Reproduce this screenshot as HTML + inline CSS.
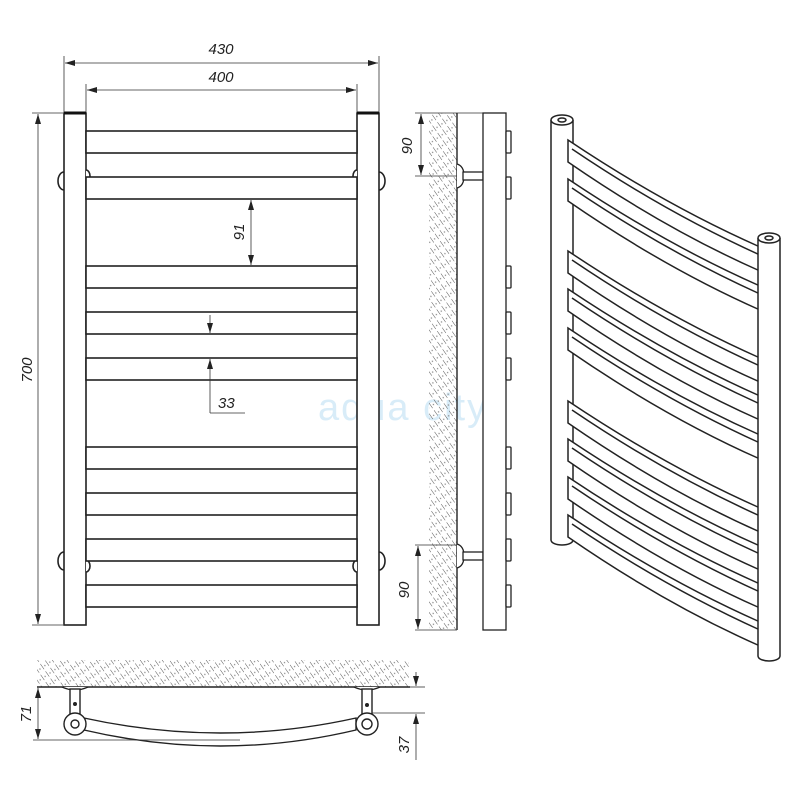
<!DOCTYPE html>
<html><head><meta charset="utf-8"><style>
html,body{margin:0;padding:0;background:#fff;width:800px;height:800px;overflow:hidden}
svg text{font-family:"Liberation Sans",sans-serif;font-style:italic;fill:#222}
</style></head><body>
<svg width="800" height="800" viewBox="0 0 800 800" xmlns="http://www.w3.org/2000/svg">
<defs>
<pattern id="h" width="6" height="9" patternUnits="userSpaceOnUse" patternTransform="rotate(-35)">
<line x1="0" y1="0" x2="0" y2="6.5" stroke="#555" stroke-width="1"/>
<circle cx="3" cy="4" r="0.7" fill="#888"/>
</pattern>
<marker id="a" viewBox="0 0 10 6" refX="10" refY="3" markerWidth="10" markerHeight="6" orient="auto-start-reverse" markerUnits="userSpaceOnUse"><path d="M0,0 L10,3 L0,6z" fill="#222"/></marker>
</defs>

<!-- watermark -->
<text x="318" y="420" style="font-style:normal;font-size:38px;fill:#d8ecf8;letter-spacing:2px">aqua city</text>

<!-- FRONT VIEW -->
<g stroke="#222" stroke-width="1.6" fill="#fff">
<path d="M64,172 a6,9 0 0 0 0,18" /><path d="M64,552 a6,9 0 0 0 0,18"/>
<path d="M379,172 a6,9 0 0 1 0,18"/><path d="M379,552 a6,9 0 0 1 0,18"/>
<rect x="64" y="113" width="22" height="512"/>
<rect x="357" y="113" width="22" height="512"/>
<path d="M86,170 a4,6 0 0 1 0,12"/><path d="M86,560 a4,6 0 0 1 0,12"/>
<path d="M357,170 a4,6 0 0 0 0,12"/><path d="M357,560 a4,6 0 0 0 0,12"/>
<rect x="86" y="131" width="271" height="22"/>
<rect x="86" y="177" width="271" height="22"/>
<rect x="86" y="266" width="271" height="22"/>
<rect x="86" y="312" width="271" height="22"/>
<rect x="86" y="358" width="271" height="22"/>
<rect x="86" y="447" width="271" height="22"/>
<rect x="86" y="493" width="271" height="22"/>
<rect x="86" y="539" width="271" height="22"/>
<rect x="86" y="585" width="271" height="22"/>
</g>
<line x1="64" y1="113" x2="86" y2="113" stroke="#111" stroke-width="3"/>
<line x1="357" y1="113" x2="379" y2="113" stroke="#111" stroke-width="3"/>
<g stroke="#333" stroke-width="0.8" fill="none">
<line x1="64" y1="56" x2="64" y2="112"/><line x1="379" y1="56" x2="379" y2="112"/>
<line x1="86" y1="84" x2="86" y2="112"/><line x1="357" y1="84" x2="357" y2="112"/>
<line x1="65" y1="63" x2="378" y2="63" marker-start="url(#a)" marker-end="url(#a)"/>
<line x1="87" y1="90" x2="356" y2="90" marker-start="url(#a)" marker-end="url(#a)"/>
<line x1="32" y1="113" x2="63" y2="113"/><line x1="32" y1="625" x2="63" y2="625"/>
<line x1="38" y1="114" x2="38" y2="624" marker-start="url(#a)" marker-end="url(#a)"/>
<line x1="251" y1="200" x2="251" y2="265" marker-start="url(#a)" marker-end="url(#a)"/>
<line x1="210" y1="315" x2="210" y2="333" marker-end="url(#a)"/>
<line x1="210" y1="413" x2="210" y2="359" marker-end="url(#a)"/>
<line x1="210" y1="413" x2="245" y2="413"/>
</g>
<text x="221" y="54" font-size="15" text-anchor="middle">430</text>
<text x="221" y="82" font-size="15" text-anchor="middle">400</text>
<text transform="translate(32,370) rotate(-90)" font-size="15" text-anchor="middle">700</text>
<text transform="translate(244,232) rotate(-90)" font-size="15" text-anchor="middle">91</text>
<text x="218" y="408" font-size="15">33</text>

<!-- SIDE VIEW -->
<rect x="429" y="113" width="28" height="517" fill="url(#h)"/>
<line x1="457" y1="113" x2="457" y2="630" stroke="#222" stroke-width="1.4"/>
<g stroke="#222" stroke-width="1.3" fill="#fff">
<path d="M457,164 q7,2 7,12 q0,10 -7,12"/>
<path d="M457,544 q7,2 7,12 q0,10 -7,12"/>
<rect x="463" y="172" width="20" height="8"/>
<rect x="463" y="552" width="20" height="8"/>
<rect x="483" y="113" width="23" height="517"/>
<rect x="506" y="131" width="5" height="22" rx="1"/>
<rect x="506" y="177" width="5" height="22" rx="1"/>
<rect x="506" y="266" width="5" height="22" rx="1"/>
<rect x="506" y="312" width="5" height="22" rx="1"/>
<rect x="506" y="358" width="5" height="22" rx="1"/>
<rect x="506" y="447" width="5" height="22" rx="1"/>
<rect x="506" y="493" width="5" height="22" rx="1"/>
<rect x="506" y="539" width="5" height="22" rx="1"/>
<rect x="506" y="585" width="5" height="22" rx="1"/>
</g>
<g stroke="#333" stroke-width="0.8">
<line x1="415" y1="113" x2="483" y2="113"/><line x1="415" y1="176" x2="457" y2="176"/>
<line x1="421" y1="114" x2="421" y2="175" marker-start="url(#a)" marker-end="url(#a)"/>
<line x1="415" y1="545" x2="457" y2="545"/><line x1="415" y1="630" x2="457" y2="630"/>
<line x1="418" y1="546" x2="418" y2="629" marker-start="url(#a)" marker-end="url(#a)"/>
</g>
<text transform="translate(412,146) rotate(-90)" font-size="15" text-anchor="middle">90</text>
<text transform="translate(409,590) rotate(-90)" font-size="15" text-anchor="middle">90</text>

<!-- BOTTOM VIEW -->
<rect x="37" y="660" width="372" height="27" fill="url(#h)"/>
<line x1="37" y1="687" x2="410" y2="687" stroke="#222" stroke-width="1.4"/>
<g stroke="#222" stroke-width="1.4" fill="#fff">
<path d="M62,687 q13,6 26,0"/><path d="M354,687 q13,6 26,0"/>
<rect x="70" y="689" width="10" height="25"/><rect x="362" y="689" width="10" height="25"/>
<path d="M84,718 Q221,748 356,718 L356,730 Q221,762 84,730 Z"/>
<circle cx="75" cy="724" r="11"/><circle cx="367" cy="724" r="11"/>
<circle cx="75" cy="724" r="4"/><circle cx="367" cy="724" r="5"/>
</g>
<circle cx="75" cy="704" r="2" fill="#222"/><circle cx="367" cy="705" r="2" fill="#222"/>
<g stroke="#333" stroke-width="0.8">
<line x1="33" y1="740" x2="240" y2="740"/>
<line x1="38" y1="688" x2="38" y2="739" marker-start="url(#a)" marker-end="url(#a)"/>
<line x1="372" y1="713" x2="425" y2="713"/><line x1="410" y1="687" x2="425" y2="687"/>
<line x1="416" y1="672" x2="416" y2="686" marker-end="url(#a)"/>
<line x1="416" y1="760" x2="416" y2="714" marker-end="url(#a)"/>
</g>
<text transform="translate(31,714) rotate(-90)" font-size="15" text-anchor="middle">71</text>
<text transform="translate(409,745) rotate(-90)" font-size="15" text-anchor="middle">37</text>

<!-- PERSPECTIVE -->
<g stroke="#222" stroke-width="1.5" fill="#fff">
<path d="M551,120 L551,540 A11,5 0 0 0 573,540 L573,120"/>
<ellipse cx="562" cy="120" rx="11" ry="5"/><ellipse cx="562" cy="120" rx="4" ry="2"/>
</g>
<g stroke="#222" stroke-width="1.5" fill="#fff">
<path d="M568,140 Q665,205 760,247 L760,271 Q665,229 568,162 Z"/><path d="M572,149 Q665,212 760,255" fill="none"/>
<path d="M568,179 Q665,244 760,286 L760,310 Q665,268 568,201 Z"/><path d="M572,188 Q665,251 760,294" fill="none"/>
<path d="M568,251 Q665,316 760,358 L760,382 Q665,340 568,273 Z"/><path d="M572,260 Q665,323 760,366" fill="none"/>
<path d="M568,289 Q665,354 760,396 L760,420 Q665,378 568,311 Z"/><path d="M572,298 Q665,361 760,404" fill="none"/>
<path d="M568,328 Q665,393 760,435 L760,459 Q665,417 568,350 Z"/><path d="M572,337 Q665,400 760,443" fill="none"/>
<path d="M568,401 Q665,466 760,508 L760,532 Q665,490 568,423 Z"/><path d="M572,410 Q665,473 760,516" fill="none"/>
<path d="M568,439 Q665,504 760,546 L760,570 Q665,528 568,461 Z"/><path d="M572,448 Q665,511 760,554" fill="none"/>
<path d="M568,477 Q665,542 760,584 L760,608 Q665,566 568,499 Z"/><path d="M572,486 Q665,549 760,592" fill="none"/>
<path d="M568,515 Q665,580 760,622 L760,646 Q665,604 568,537 Z"/><path d="M572,524 Q665,587 760,630" fill="none"/>
</g>
<g stroke="#222" stroke-width="1.5" fill="#fff">
<path d="M758,238 L758,656 A11,5 0 0 0 780,656 L780,238"/>
<ellipse cx="769" cy="238" rx="11" ry="5"/><ellipse cx="769" cy="238" rx="4" ry="2"/>
</g>
</svg>
</body></html>
